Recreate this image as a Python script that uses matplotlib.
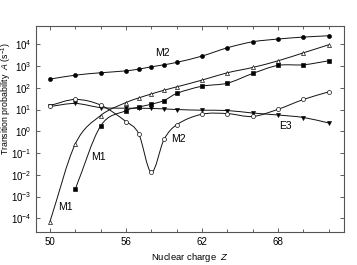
import matplotlib
matplotlib.use("Agg")
import matplotlib.pyplot as plt
import numpy as np
from matplotlib.path import Path
from matplotlib.patches import PathPatch
from matplotlib.ticker import FixedLocator, NullLocator, FuncFormatter

plt.rcParams['font.family'] = ['Liberation Sans', 'DejaVu Sans']
plt.rcParams['mathtext.fontset'] = 'custom'
plt.rcParams['mathtext.rm'] = 'Liberation Sans'
plt.rcParams['mathtext.it'] = 'Liberation Sans:italic'

# Data
z_full = [50, 52, 54, 56, 57, 58, 59, 60, 62, 64, 66, 68, 70, 72]
m2_upper = [250, 380, 490, 600, 720, 920, 1140, 1470, 2870, 6900, 13000, 17400, 21400, 24600]
m1_tri = [7e-5, 0.26, 5.3, 21, 34, 52, 77, 110, 225, 490, 860, 1740, 4050, 9500]
e3 = [13.8, 19, 12.3, 11.5, 11.5, 11.2, 10.7, 10, 9.3, 9, 6.9, 5.6, 4.3, 2.4]
m2_lower = [15.3, 29, 16, 2.8, 0.78, 0.013, 0.42, 2.0, 6.1, 6.5, 4.8, 10.3, 29, 65]

z_sq = [52, 54, 56, 57, 58, 59, 60, 62, 64, 66, 68, 70, 72]
m1_sq = [2.2e-3, 1.75, 9, 13, 17.5, 26, 55, 118, 163, 455, 1070, 1140, 1740]

labels = [("M2", 58.85, 3.59), ("M1", 51.2, -3.46), ("M1", 53.8, -1.18),
          ("M2", 60.1, -0.37), ("E3", 68.6, 0.23)]


def smooth_path(x, y):
    # Hermite curve (in log space) drawn as Bezier segments
    x = np.asarray(x, float)
    ly = np.log10(y)
    n = len(x)
    m = np.zeros(n)
    m[0] = (ly[1] - ly[0]) / (x[1] - x[0])
    m[-1] = (ly[-1] - ly[-2]) / (x[-1] - x[-2])
    m[1:-1] = (ly[2:] - ly[:-2]) / (x[2:] - x[:-2])
    verts = [(x[0], 10 ** ly[0])]
    codes = [Path.MOVETO]
    for i in range(n - 1):
        h = x[i + 1] - x[i]
        c1 = (x[i] + h / 3, 10 ** (ly[i] + m[i] * h / 3))
        c2 = (x[i + 1] - h / 3, 10 ** (ly[i + 1] - m[i + 1] * h / 3))
        verts += [c1, c2, (x[i + 1], 10 ** ly[i + 1])]
        codes += [Path.CURVE4] * 3
    return Path(verts, codes)


fig = plt.figure(figsize=(3.57, 2.65), dpi=100)
ax = fig.add_axes([0.1008, 0.1245, 0.8628, 0.7774])
ax.set_yscale('log')

series = [
    (z_full, m2_upper, dict(marker='o', mfc='black', ms=2.9)),
    (z_full, m1_tri, dict(marker='^', mfc='white', ms=2.9)),
    (z_sq, m1_sq, dict(marker='s', mfc='black', ms=2.3)),
    (z_full, e3, dict(marker='v', mfc='black', ms=2.9)),
    (z_full, m2_lower, dict(marker='o', mfc='white', ms=2.9)),
]
for x, y, st in series:
    ax.add_patch(PathPatch(smooth_path(x, y), fill=False, ec='#111111', lw=0.7,
                           transform=ax.transData))
    ax.plot(x, y, ls='none', mec='#111111', mew=0.5, **st)

for txt, zx, ly in labels:
    ax.text(zx, 10 ** ly, txt, fontsize=7.5, ha='center', va='center')

ax.set_xlim(48.9, 73.2)
ax.set_ylim(10 ** -4.63, 10 ** 4.84)
ax.xaxis.set_major_locator(FixedLocator([50, 56, 62, 68]))
ax.xaxis.set_minor_locator(FixedLocator(np.arange(50, 73, 2)))
ax.yaxis.set_major_locator(FixedLocator([10.0 ** k for k in range(-4, 5)]))
ax.yaxis.set_minor_locator(NullLocator())
ax.yaxis.set_major_formatter(FuncFormatter(lambda v, p: r'$10^{%d}$' % round(np.log10(v))))
ax.tick_params(which='both', direction='in', top=True, right=True,
               labelsize=7, color='#444444', width=0.6)
ax.tick_params(which='major', length=3)
ax.tick_params(which='minor', length=2)
for s in ax.spines.values():
    s.set_color('#555555')
    s.set_linewidth(0.8)

ax.set_xlabel(r'Nuclear charge  $Z$', fontsize=6.8)
ax.xaxis.set_label_coords(0.5, -0.092)
ax.set_ylabel(r'Transition probability  $A$ (s$^{-1}$)', fontsize=6.3)
ax.yaxis.set_label_coords(-0.076, 0.65)

fig.savefig('out.png', dpi=100)
